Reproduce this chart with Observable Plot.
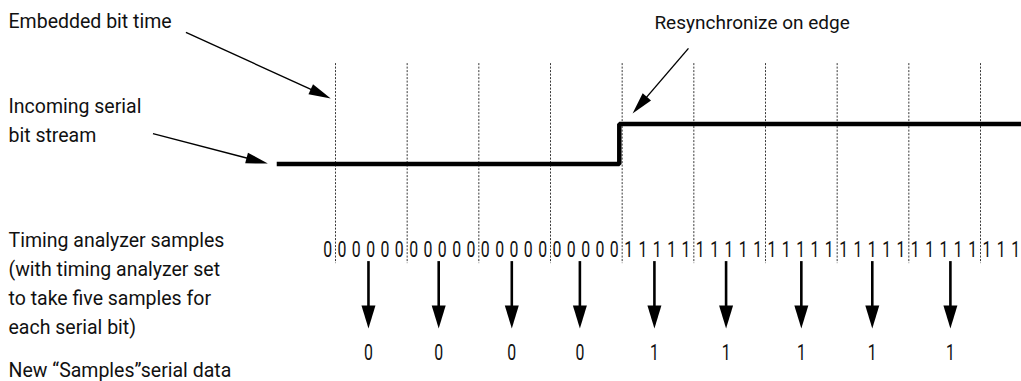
<!DOCTYPE html>
<html><head><meta charset="utf-8">
<script src="https://cdn.jsdelivr.net/npm/d3@7"></script>
<script src="https://cdn.jsdelivr.net/npm/@observablehq/plot@0.6"></script>
<style>
html,body{margin:0;padding:0;background:#fff;}
</style></head><body><div id="chart"></div>
<script>
// ---- data ----
// embedded bit-time boundaries (in bit periods)
const bitBoundaries = [0, 1, 2, 3, 4, 5, 6, 7, 8, 9];
// incoming serial bit stream: step points (time in bit periods, logic level)
const signalTimes = [-0.82, 3.96, 9.6];
const signalLevels = [0, 1, 1];
// timing analyzer samples (five per serial bit)
const samples = [
  "0",
  "0","0","0","0","0", "0","0","0","0","0", "0","0","0","0","0", "0","0","0","0","0",
  "1","1","1","1","1", "1","1","1","1","1", "1","1","1","1","1", "1","1","1","1","1", "1","1","1","1","1",
  "1","1","1"
];
const samplesPerBit = 5;
const firstSampleTime = -0.11;
// new "samples" serial data: chosen sample times and bits
const outputTimes = [0.46, 1.44, 2.46, 3.41, 4.45, 5.45, 6.50, 7.49, 8.58];
const outputBits = ["0", "0", "0", "0", "1", "1", "1", "1", "1"];
// labels
const leftLabels = [
  "Embedded bit time",
  "Incoming serial\nbit stream",
  "Timing analyzer samples\n(with timing analyzer set\nto take five samples for\neach serial bit)",
  "New \u201cSamples\u201dserial data"
];
const edgeLabel = "Resynchronize on edge";

// ---- layout (diagram units: signal low = 0, high = 1) ----
const lane = {gridTop: 2.51, gridBottom: -2.49, sampleRow: -2.14, stemTop: -2.44, arrowTip: -4.11, outputRow: -4.72};
const leftLabelY = [3.64, 1.14, -2.93, -5.09];
const edgeLabelPos = {x: 4.45, y: 3.53};
const callouts = [
  {x1: -2.087, y1: 3.29, x2: -0.066, y2: 1.64},
  {x1: -2.547, y1: 0.76, x2: -0.944, y2: 0.01},
  {x1: 4.925, y1: 2.89, x2: 4.145, y2: 1.26}
];

const W = 1021, H = 381;
const xOpts = {domain: [0, 9], range: [335, 980]};
const yOpts = {domain: [0, 1], range: [163.5, 123.5]};
const xs = Plot.scale({x: xOpts}), ys = Plot.scale({y: yOpts});
const FONT = 'Roboto, "Liberation Sans", sans-serif';

function head(angle, len, half) {
  return {draw(ctx) {
    const c = Math.cos(angle), s = Math.sin(angle);
    const bx = -len * c, by = -len * s;
    ctx.moveTo(0, 0);
    ctx.lineTo(bx - half * s, by + half * c);
    ctx.lineTo(bx + half * s, by - half * c);
    ctx.closePath();
  }};
}

const signal = signalTimes.map((t, i) => ({t, level: signalLevels[i]}));
const sampleData = samples.map((v, k) => ({t: firstSampleTime + k / samplesPerBit, v}));
const outData = outputTimes.map((t, i) => ({t, bit: outputBits[i]}));

const downLen = 23, downHalf = 7;
const stemBottom = ys.invert(ys.apply(lane.arrowTip) - downLen + 2);

const calloutMarks = callouts.flatMap(c => {
  const px1 = xs.apply(c.x1), py1 = ys.apply(c.y1), px2 = xs.apply(c.x2), py2 = ys.apply(c.y2);
  const ang = Math.atan2(py2 - py1, px2 - px1);
  const len = 22, half = 5.5;
  const bx = xs.invert(px2 - (len - 2) * Math.cos(ang)), by = ys.invert(py2 - (len - 2) * Math.sin(ang));
  return [
    Plot.link([c], {x1: "x1", y1: "y1", x2: () => bx, y2: () => by, stroke: "black", strokeWidth: 1.4}),
    Plot.dot([c], {x: "x2", y: "y2", symbol: head(ang, len, half), fill: "black", stroke: "none"})
  ];
});

const chart = Plot.plot({
  width: W, height: H,
  marginTop: 0, marginRight: 0, marginBottom: 0, marginLeft: 0,
  x: {...xOpts, axis: null},
  y: {...yOpts, axis: null},
  style: {background: "white"},
  marks: [
    Plot.ruleX(bitBoundaries, {x: d => d, y1: lane.gridTop, y2: lane.gridBottom, stroke: "#222", strokeWidth: 0.9, strokeDasharray: "2,1.5"}),
    Plot.line(signal, {x: "t", y: "level", curve: "step-after", stroke: "black", strokeWidth: 4.5, strokeLinejoin: "miter", strokeLinecap: "butt"}),
    Plot.text(sampleData, {x: "t", y: lane.sampleRow, text: "v", fontSize: 22, fontFamily: FONT, fill: "#111"}),
    Plot.ruleX(outData, {x: "t", y1: lane.stemTop, y2: stemBottom, stroke: "black", strokeWidth: 2.6}),
    Plot.dot(outData, {x: "t", y: lane.arrowTip, symbol: head(Math.PI / 2, downLen, downHalf), fill: "black", stroke: "none"}),
    Plot.text(outData, {x: "t", y: lane.outputRow, text: "bit", fontSize: 22, fontFamily: FONT, fill: "#111"}),
    Plot.text(leftLabels, {frameAnchor: "left", y: (d, i) => leftLabelY[i], text: d => d, dx: 8, textAnchor: "start", lineHeight: 1.48, fontSize: 19.5, fontFamily: FONT, fill: "#111"}),
    Plot.text([edgeLabel], {x: edgeLabelPos.x, y: edgeLabelPos.y, text: d => d, textAnchor: "start", fontSize: 19, fontFamily: FONT, fill: "#111"}),
    ...calloutMarks
  ]
});
// condensed digit glyphs (single-digit texts only)
d3.select(chart).selectAll("text")
  .filter(function () { return /^[01]$/.test(this.textContent); })
  .each(function () {
    const tr = this.getAttribute("transform");
    if (tr) this.setAttribute("transform", tr + " scale(0.72,1)");
  });
document.getElementById("chart").append(chart);
</script></body></html>
